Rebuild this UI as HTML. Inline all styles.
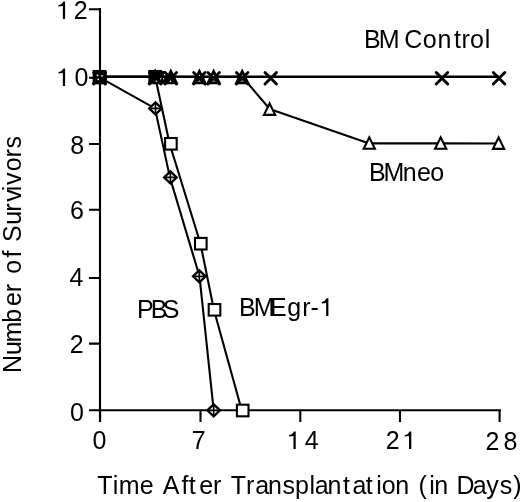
<!DOCTYPE html>
<html><head><meta charset="utf-8"><style>html,body{margin:0;padding:0;background:#fff;overflow:hidden}svg{display:block;filter:grayscale(1)}</style></head>
<body><svg width="520" height="502" viewBox="0 0 520 502">
<path d="M100 8V422M89 410.3H501M100.1 410V422M200.5 410V422M300.3 410V422M400 410V422M499.6 410V422M89 9.3H100M89 77.7H100M89 144.0H100M89 209.7H100M89 278.0H100M89 343.6H100M89 410.3H100" stroke="#000" stroke-width="2.1" fill="none"/><path d="M99.50 76.8H499.06" stroke="#000" stroke-width="2.5"/><polyline points="99.50,76.80 155.20,76.80 170.80,76.80 199.39,76.80 213.66,76.80 242.20,76.80 269.60,108.90 369.30,143.40 440.70,143.40 498.60,143.50" stroke="#000" stroke-width="2.1" fill="none" stroke-linejoin="round"/><polyline points="99.50,76.80 155.20,76.80 169.60,143.80 200.50,243.70 213.90,309.80 241.80,410.50" stroke="#000" stroke-width="2.1" fill="none" stroke-linejoin="round"/><polyline points="100.00,77.60 155.00,108.40 169.90,177.40 199.50,276.30 213.70,410.30" stroke="#000" stroke-width="2.1" fill="none" stroke-linejoin="round"/><path d="M100.00 71.60L106.30 77.60L100.00 83.60L93.70 77.60Z" stroke="#000" stroke-width="2.3" fill="#fff"/><path d="M93.70 77.60H106.30M100.00 71.60V83.60" stroke="#000" stroke-width="1.7"/><path d="M155.50 102.40L161.80 108.40L155.50 114.40L149.20 108.40Z" stroke="#000" stroke-width="2.3" fill="#fff"/><path d="M149.20 108.40H161.80M155.50 102.40V114.40" stroke="#000" stroke-width="1.7"/><path d="M170.40 171.40L176.70 177.40L170.40 183.40L164.10 177.40Z" stroke="#000" stroke-width="2.3" fill="#fff"/><path d="M164.10 177.40H176.70M170.40 171.40V183.40" stroke="#000" stroke-width="1.7"/><path d="M199.30 270.30L205.60 276.30L199.30 282.30L193.00 276.30Z" stroke="#000" stroke-width="2.3" fill="#fff"/><path d="M193.00 276.30H205.60M199.30 270.30V282.30" stroke="#000" stroke-width="1.7"/><path d="M213.70 404.30L220.00 410.30L213.70 416.30L207.40 410.30Z" stroke="#000" stroke-width="2.3" fill="#fff"/><path d="M207.40 410.30H220.00M213.70 404.30V416.30" stroke="#000" stroke-width="1.7"/><rect x="93.70" y="71.00" width="11.60" height="11.60" stroke="#000" stroke-width="2.1" fill="#fff"/><rect x="149.40" y="71.00" width="11.60" height="11.60" stroke="#000" stroke-width="2.1" fill="#fff"/><rect x="165.10" y="138.00" width="11.60" height="11.60" stroke="#000" stroke-width="2.1" fill="#fff"/><rect x="195.00" y="237.90" width="11.60" height="11.60" stroke="#000" stroke-width="2.1" fill="#fff"/><rect x="208.70" y="304.00" width="11.60" height="11.60" stroke="#000" stroke-width="2.1" fill="#fff"/><rect x="236.90" y="404.70" width="11.60" height="11.60" stroke="#000" stroke-width="2.1" fill="#fff"/><path d="M99.50 71.40L105.10 82.80L93.90 82.80Z" stroke="#000" stroke-width="2.7" fill="#000" stroke-linejoin="miter"/><path d="M155.20 71.40L160.80 82.80L149.60 82.80Z" stroke="#000" stroke-width="2.7" fill="#000" stroke-linejoin="miter"/><path d="M170.80 71.40L176.40 82.80L165.20 82.80Z" stroke="#000" stroke-width="2.7" fill="#000" stroke-linejoin="miter"/><path d="M199.39 71.40L204.99 82.80L193.79 82.80Z" stroke="#000" stroke-width="2.7" fill="#fff" stroke-linejoin="miter"/><path d="M213.66 71.40L219.26 82.80L208.06 82.80Z" stroke="#000" stroke-width="2.7" fill="#fff" stroke-linejoin="miter"/><path d="M242.20 71.40L247.80 82.80L236.60 82.80Z" stroke="#000" stroke-width="2.7" fill="#fff" stroke-linejoin="miter"/><path d="M269.60 103.50L275.20 114.90L264.00 114.90Z" stroke="#000" stroke-width="2.1" fill="#fff" stroke-linejoin="miter"/><path d="M369.30 137.40L374.90 148.80L363.70 148.80Z" stroke="#000" stroke-width="2.1" fill="#fff" stroke-linejoin="miter"/><path d="M440.70 137.40L446.30 148.80L435.10 148.80Z" stroke="#000" stroke-width="2.1" fill="#fff" stroke-linejoin="miter"/><path d="M498.60 137.50L504.20 148.90L493.00 148.90Z" stroke="#000" stroke-width="2.1" fill="#fff" stroke-linejoin="miter"/><path d="M93.75 72.55L105.25 84.05M93.75 84.05L105.25 72.55" stroke="#000" stroke-width="2.9" stroke-linecap="round" fill="none"/><path d="M149.45 72.55L160.95 84.05M149.45 84.05L160.95 72.55" stroke="#000" stroke-width="2.9" stroke-linecap="round" fill="none"/><path d="M165.05 72.55L176.55 84.05M165.05 84.05L176.55 72.55" stroke="#000" stroke-width="2.9" stroke-linecap="round" fill="none"/><path d="M193.64 72.55L205.14 84.05M193.64 84.05L205.14 72.55" stroke="#000" stroke-width="2.9" stroke-linecap="round" fill="none"/><path d="M207.91 72.55L219.41 84.05M207.91 84.05L219.41 72.55" stroke="#000" stroke-width="2.9" stroke-linecap="round" fill="none"/><path d="M236.45 72.55L247.95 84.05M236.45 84.05L247.95 72.55" stroke="#000" stroke-width="2.9" stroke-linecap="round" fill="none"/><path d="M264.99 72.55L276.49 84.05M264.99 84.05L276.49 72.55" stroke="#000" stroke-width="2.9" stroke-linecap="round" fill="none"/><path d="M436.23 72.55L447.73 84.05M436.23 84.05L447.73 72.55" stroke="#000" stroke-width="2.9" stroke-linecap="round" fill="none"/><path d="M493.31 72.55L504.81 84.05M493.31 84.05L504.81 72.55" stroke="#000" stroke-width="2.9" stroke-linecap="round" fill="none"/><rect x="93.2" y="70.8" width="13.6" height="13.3" fill="#000"/><path d="M150 71H166V83.6H150Z" fill="#000"/><circle cx="97.5" cy="75.3" r="0.9" fill="#fff"/><circle cx="102" cy="75.8" r="0.9" fill="#fff"/><circle cx="98.2" cy="79.4" r="0.8" fill="#fff"/><circle cx="164.6" cy="74.6" r="0.8" fill="#fff"/><circle cx="160.7" cy="78.7" r="0.7" fill="#fff"/><circle cx="163.6" cy="78.7" r="0.7" fill="#fff"/><circle cx="156.5" cy="81.2" r="0.8" fill="#fff"/><circle cx="170.5" cy="81.3" r="0.8" fill="#fff"/>
<g font-family="Liberation Sans, sans-serif" font-size="25" fill="#000"><path d="M65.10 1.40L65.10 19.00L62.85 19.00L62.85 6.10C61.50 6.30 60.00 6.50 58.50 6.60L58.50 5.00C60.70 4.70 62.50 3.40 63.40 1.40Z"/><text x="73.84" y="19">2</text><path d="M65.10 68.40L65.10 86.00L62.85 86.00L62.85 73.10C61.50 73.30 60.00 73.50 58.50 73.60L58.50 72.00C60.70 71.70 62.50 70.40 63.40 68.40Z"/><text x="74.42" y="86.0">0</text><text x="70.21" y="154.2">8</text><text x="69.98" y="219.4">6</text><text x="69.53" y="285.7">4</text><text x="69.74" y="353.4">2</text><text x="70.02" y="420.8">0</text><text x="92.42" y="449">0</text><text x="191.72" y="449">7</text><path d="M295.70 431.40L295.70 449.00L293.45 449.00L293.45 436.10C292.10 436.30 290.60 436.50 289.10 436.60L289.10 435.00C291.30 434.70 293.10 433.40 294.00 431.40Z"/><text x="304.63" y="449">4</text><text x="385.74" y="449">2</text><path d="M411.30 431.40L411.30 449.00L409.05 449.00L409.05 436.10C407.70 436.30 406.20 436.50 404.70 436.60L404.70 435.00C406.90 434.70 408.70 433.40 409.60 431.40Z"/><text x="485.44" y="449.8">2</text><text x="503.61" y="449.8">8</text><text x="97.24" y="493.9">T</text><text x="112.73" y="493.9">i</text><text x="118.64" y="493.9">m</text><text x="139.74" y="493.9">e</text><text x="162.65" y="493.9">A</text><text x="181.55" y="493.9">f</text><text x="188.82" y="493.9">t</text><text x="199.34" y="493.9">e</text><text x="212.94" y="493.9">r</text><text x="230.84" y="493.9">T</text><text x="246.04" y="493.9">r</text><text x="255.14" y="493.9">a</text><text x="268.04" y="493.9">n</text><text x="282.50" y="493.9">s</text><text x="294.89" y="493.9">p</text><text x="309.52" y="493.9">l</text><text x="314.74" y="493.9">a</text><text x="327.54" y="493.9">n</text><text x="343.12" y="493.9">t</text><text x="352.44" y="493.9">a</text><text x="365.82" y="493.9">t</text><text x="376.33" y="493.9">i</text><text x="381.65" y="493.9">o</text><text x="395.24" y="493.9">n</text><text x="418.45" y="493.9">(</text><text x="429.13" y="493.9">i</text><text x="434.14" y="493.9">n</text><text x="456.45" y="493.9">D</text><text x="472.74" y="493.9">a</text><text x="486.24" y="493.9">y</text><text x="499.70" y="493.9">s</text><text x="513.35" y="493.9">)</text><text x="363.95" y="47.7">B</text><text x="378.75" y="47.7">M</text><text x="404.13" y="47.7">C</text><text x="422.75" y="47.7">o</text><text x="437.54" y="47.7">n</text><text x="454.02" y="47.7">t</text><text x="461.54" y="47.7">r</text><text x="469.95" y="47.7">o</text><text x="484.82" y="47.7">l</text><text x="368.95" y="180.5">B</text><text x="383.55" y="180.5">M</text><text x="402.74" y="180.5">n</text><text x="416.94" y="180.5">e</text><text x="430.15" y="180.5">o</text><text x="136.95" y="317.8">P</text><text x="150.75" y="317.8">B</text><text x="162.66" y="317.8">S</text><text x="238.95" y="315.9">B</text><text x="253.65" y="315.9">M</text><text x="269.95" y="315.9">E</text><text x="287.15" y="315.9">g</text><text x="302.14" y="315.9">r</text><text x="310.59" y="315.9">-</text><path d="M328.40 298.30L328.40 315.90L326.15 315.90L326.15 303.00C324.80 303.20 323.30 303.40 321.80 303.50L321.80 301.90C324.00 301.60 325.80 300.30 326.70 298.30Z"/><g transform="rotate(-90)"><text x="-372.95" y="20.6">N</text><text x="-355.02" y="20.6">u</text><text x="-342.46" y="20.6">m</text><text x="-322.81" y="20.6">b</text><text x="-306.06" y="20.6">e</text><text x="-292.36" y="20.6">r</text><text x="-273.65" y="20.6">o</text><text x="-257.45" y="20.6">f</text><text x="-242.04" y="20.6">S</text><text x="-224.82" y="20.6">u</text><text x="-211.66" y="20.6">r</text><text x="-201.79" y="20.6">v</text><text x="-191.37" y="20.6">i</text><text x="-185.09" y="20.6">v</text><text x="-171.35" y="20.6">o</text><text x="-157.56" y="20.6">r</text><text x="-148.60" y="20.6">s</text></g></g>
</svg></body></html>
